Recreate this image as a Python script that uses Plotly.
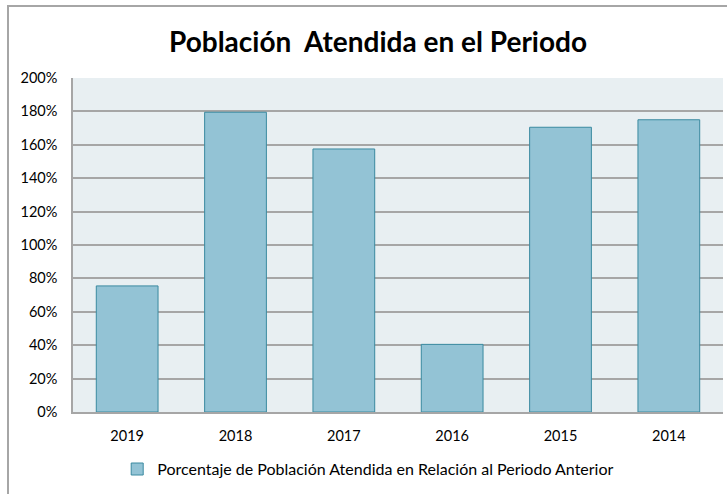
import plotly.graph_objects as go

# años y porcentaje respecto al periodo anterior
years = ["2019", "2018", "2017", "2016", "2015", "2014"]
pct = [0.755, 1.795, 1.575, 0.405, 1.705, 1.75]
serie = "Porcentaje de Población Atendida en Relación al Periodo Anterior"

fig = go.Figure(
    data=[go.Bar(x=years, y=pct, name=serie,
                 marker=dict(color="#93C3D5", line=dict(color="#3A8AA0", width=1)))]
)

fig.update_layout(
    width=727, height=494,
    margin=dict(l=73, r=4, t=78, b=82),
    paper_bgcolor="white",
    plot_bgcolor="#E8EFF2",
    font=dict(family="Lato, Open Sans, sans-serif", size=14, color="#000000"),
    title=dict(text="<b>Población  Atendida en el Periodo</b>", x=378 / 727, xanchor="center",
               y=1 - 42 / 494, yanchor="middle", yref="container",
               font=dict(size=28, color="#000000")),
    bargap=0.43,
    showlegend=True,
    legend=dict(orientation="h", x=0.068, xanchor="left", y=-0.171, yanchor="middle",
                font=dict(size=16), itemwidth=30),
)
fig.update_yaxes(range=[0, 2], dtick=0.2, tickformat=".0%", showgrid=True,
                 gridcolor="#A6A6A6", gridwidth=1.5, showline=True, linecolor="#A6A6A6",
                 linewidth=1.5, ticks="", zeroline=False, tickfont=dict(size=14.5),
                 ticklabelstandoff=11)
fig.update_xaxes(showline=True, linecolor="#A6A6A6", linewidth=1.5, ticks="",
                 tickfont=dict(size=14.5), ticklabelstandoff=10)

# marco exterior del gráfico
fig.add_shape(type="rect", xref="paper", yref="paper",
              x0=-65 / 650, x1=1.05, y0=-0.3, y1=406 / 334,
              line=dict(color="#A6A6A6", width=2), fillcolor="rgba(0,0,0,0)", layer="below")

fig.write_html("out.html", config={"displayModeBar": False},
               post_script="document.body.style.margin='0';")
